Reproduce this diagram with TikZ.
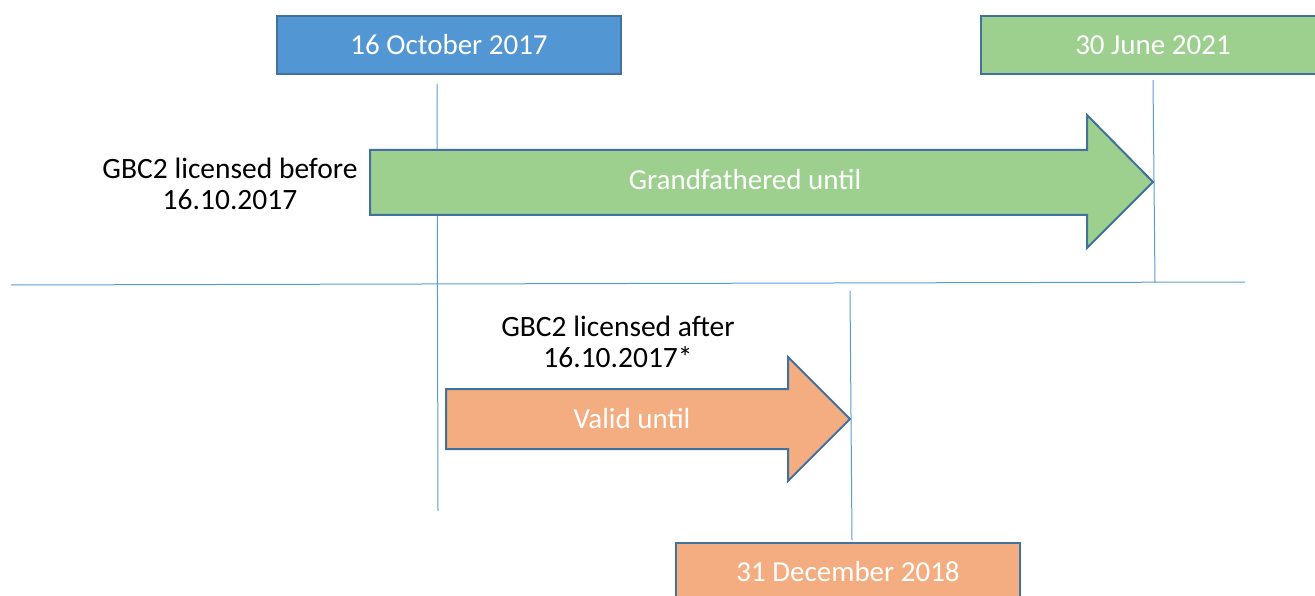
\documentclass[tikz,border=0pt]{standalone}
\usepackage{fontspec}
\setmainfont{Carlito}
\definecolor{lineblue}{HTML}{5B9BD5}
\definecolor{boxblue}{HTML}{5296D3}
\definecolor{edgeblue}{HTML}{41719C}
\definecolor{boxgreen}{HTML}{9DD08F}
\definecolor{boxorange}{HTML}{F4AD80}
\tikzset{
  datebox/.style={draw=edgeblue, line width=2pt, minimum width=344pt, minimum height=58pt, inner sep=0pt, text=white, font=\fontsize{29}{31}\selectfont},
  bigarrow/.style={draw=edgeblue, line width=2pt, line join=miter},
  arrowtext/.style={text=white, font=\fontsize{29}{31}\selectfont, inner sep=0pt},
  caption/.style={text=black, align=center, font=\fontsize{29.5}{31}\selectfont, inner sep=0pt},
  guide/.style={draw=lineblue, line width=1pt}
}
\begin{document}
\begin{tikzpicture}[x=1pt,y=-1pt]
\useasboundingbox (0,0) rectangle (1315,596);
\clip (0,0) rectangle (1315,596);
% guide lines
\coordinate (v1t) at (437,84); \coordinate (v1b) at (438,511);
\coordinate (v2t) at (1153,80); \coordinate (v2b) at (1155,283);
\coordinate (v3t) at (850,291); \coordinate (v3b) at (852,540);
\coordinate (hl) at (11,285); \coordinate (hr) at (1245,282);
\draw[guide] (v1t) -- (v1b);
\draw[guide] (v2t) -- (v2b);
\draw[guide] (v3t) -- (v3b);
\draw[guide] (hl) -- (hr);
% date boxes
\node[datebox, fill=boxblue] (oct) at (449,45) {16 October 2017};
\node[datebox, fill=boxgreen] (jun) at (1153,45) {30 June 2021};
\node[datebox, fill=boxorange] (dec) at (848,572) {31 December 2018};
% green arrow
\draw[bigarrow, fill=boxgreen] (370,150) -- (1087,150) -- (1087,115) -- (1153,182) -- (1087,248) -- (1087,215) -- (370,215) -- cycle;
\node[arrowtext] (grand) at (745,180) {Grandfathered until};
% orange arrow
\draw[bigarrow, fill=boxorange] (446,389) -- (788,389) -- (788,357) -- (850,419) -- (788,481) -- (788,449) -- (446,449) -- cycle;
\node[arrowtext] (valid) at (632,419) {Valid until};
% captions
\node[caption] (before) at (230,184) {GBC2 licensed before\\16.10.2017};
\node[caption] (after) at (618,342) {GBC2 licensed after\\16.10.2017*};
\end{tikzpicture}
\end{document}
